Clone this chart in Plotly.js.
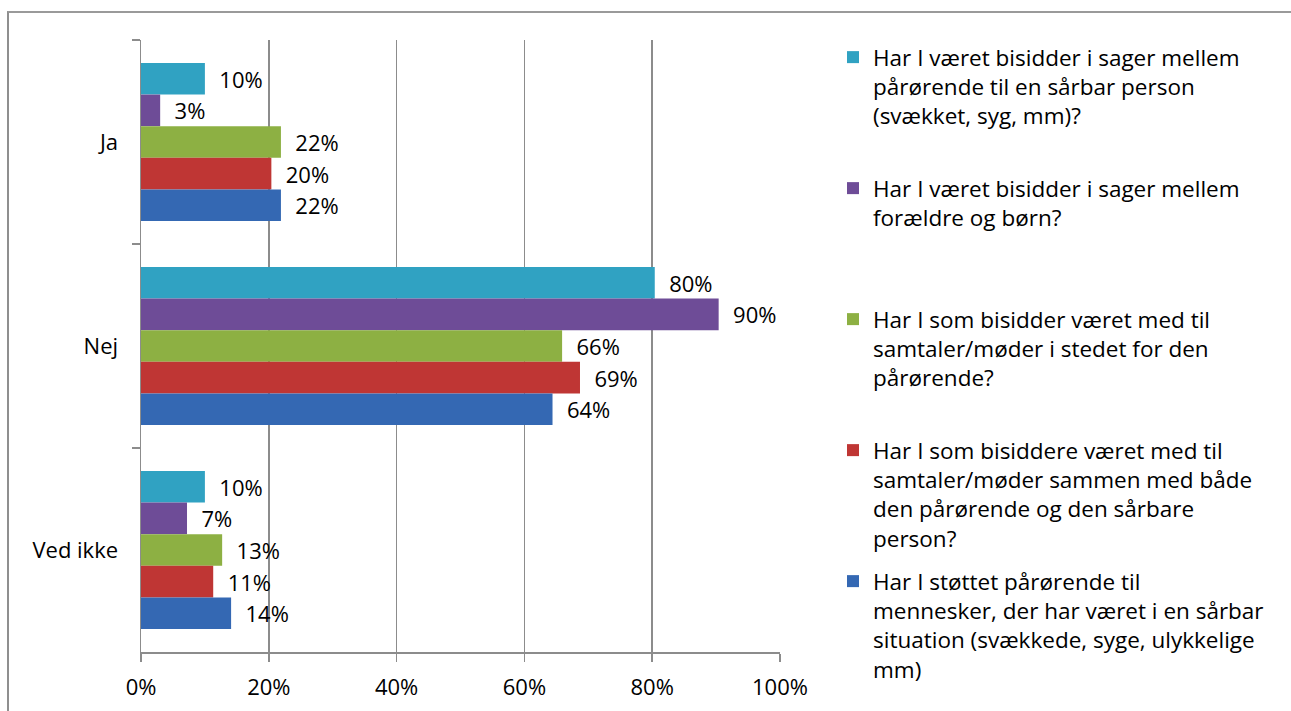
<!DOCTYPE html>
<html>
<head>
<meta charset="utf-8">
<script src="https://cdn.plot.ly/plotly-3.0.1.min.js"></script>
<style>
  html, body { margin: 0; padding: 0; background: #fff; overflow: hidden; }
  #chart { position: absolute; left: 0; top: 0; width: 1291px; height: 711px; }
  #frame { position: absolute; left: 7px; top: 11px; width: 1400px; height: 800px;
           border-left: 2px solid #8f8f8f; border-top: 2px solid #9a9a9a; pointer-events: none; }
</style>
</head>
<body>
<div id="chart"></div>
<div id="frame"></div>
<script>
// Categories (top to bottom)
const categories = ["Ja", "Nej", "Ved ikke"];

// Series names (legend)
const seriesNames = [
  "Har I været bisidder i sager mellem<br>pårørende til en sårbar person<br>(svækket, syg, mm)?",
  "Har I været bisidder i sager mellem<br>forældre og børn?",
  "Har I som bisidder været med til<br>samtaler/møder i stedet for den<br>pårørende?",
  "Har I som bisiddere været med til<br>samtaler/møder sammen med både<br>den pårørende og den sårbare<br>person?",
  "Har I støttet pårørende til<br>mennesker, der har været i en sårbar<br>situation (svækkede, syge, ulykkelige<br>mm)"
];

// Series values (% for Ja, Nej, Ved ikke)
const sSaarbar   = [10.0, 80.4, 10.0];
const sForaeldre = [3.0, 90.4, 7.2];
const sIStedet   = [21.9, 65.9, 12.7];
const sSammen    = [20.4, 68.7, 11.3];
const sStoettet  = [21.9, 64.4, 14.1];
const seriesValues = [sSaarbar, sForaeldre, sIStedet, sSammen, sStoettet];

const colors = ["#30a2c2", "#6e4c97", "#8db043", "#bf3634", "#3468b3"];

const FONT = "'Open Sans', 'Noto Sans', sans-serif";
const FS = 22;
const LFS = 22.5;

function pad(name) {
  const n = name.split("<br>").length;
  let s = name;
  for (let i = n; i < 4; i++) s += "<br>\u00a0";
  return s;
}

const traces = seriesValues.map((vals, i) => ({
  type: "bar",
  orientation: "h",
  name: pad(seriesNames[i]),
  legendgroup: "g" + i,
  y: categories,
  x: vals,
  marker: { color: colors[i] },
  texttemplate: "\u00a0\u00a0%{x:.0f}%",
  textposition: "outside",
  constraintext: "none",
  cliponaxis: false,
  textfont: { family: FONT, size: FS, color: "#000" },
  hoverinfo: "x+y"
}));

const layout = {
  width: 1291,
  height: 711,
  paper_bgcolor: "#fff",
  plot_bgcolor: "#fff",
  margin: { l: 141, r: 511, t: 40, b: 59 },
  barmode: "group",
  bargap: 0.225,
  bargroupgap: 0,
  font: { family: FONT, size: FS, color: "#000" },
  xaxis: {
    range: [0, 100],
    dtick: 20,
    ticksuffix: "%",
    showgrid: true,
    gridcolor: "#8c8c8c",
    gridwidth: 1.5,
    zeroline: false,
    showline: true,
    linecolor: "#8c8c8c",
    linewidth: 1.5,
    ticks: "outside",
    ticklen: 8,
    tickcolor: "#8c8c8c",
    tickwidth: 1.5,
    ticklabelstandoff: 7,
    tickfont: { family: FONT, size: FS, color: "#000" }
  },
  yaxis: {
    type: "category",
    categoryorder: "array",
    categoryarray: categories,
    autorange: "reversed",
    showline: true,
    linecolor: "#8c8c8c",
    linewidth: 1.5,
    ticks: "outside",
    tickson: "boundaries",
    ticklen: 8,
    tickcolor: "#8c8c8c",
    tickwidth: 1.5,
    ticklabelstandoff: 17,
    showgrid: false,
    zeroline: false,
    tickfont: { family: FONT, size: FS, color: "#000" }
  },
  legend: {
    xref: "container",
    yref: "container",
    x: 833 / 1291,
    y: 1 - 36 / 711,
    xanchor: "left",
    yanchor: "top",
    valign: "top",
    traceorder: "grouped",
    tracegroupgap: 11,
    maxheight: 700,
    font: { family: FONT, size: LFS, color: "#000" },
    bgcolor: "rgba(0,0,0,0)",
    borderwidth: 0
  },
  showlegend: true
};

Plotly.newPlot("chart", traces, layout, { displayModeBar: false, staticPlot: true });
</script>
</body>
</html>
